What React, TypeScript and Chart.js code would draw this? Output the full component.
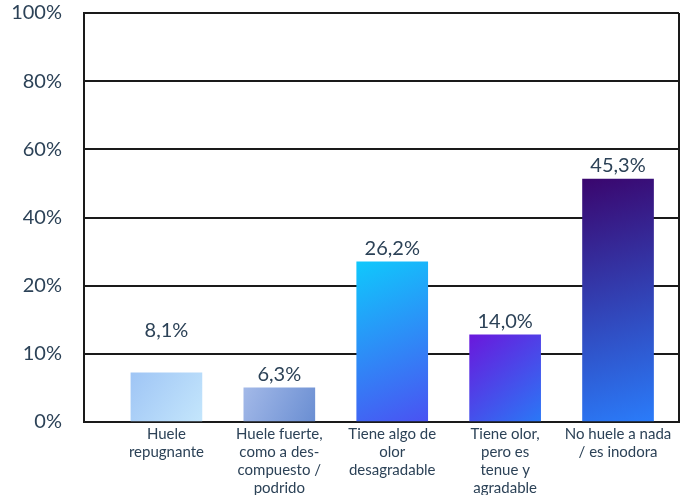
import React, { useEffect, useRef } from "react";
import { Chart, registerables, LinearScale } from "chart.js";

Chart.register(...registerables);

// ---- data ----
const categories: string[][] = [
  ["Huele", "repugnante"],
  ["Huele fuerte,", "como a des-", "compuesto /", "podrido"],
  ["Tiene algo de", "olor", "desagradable"],
  ["Tiene olor,", "pero es", "tenue y", "agradable"],
  ["No huele a nada", "/ es inodora"],
];
// values printed above the bars
const reportedValues = [8.1, 6.3, 26.2, 14.0, 45.3];
// bar heights as drawn against the (uneven) axis of the original picture, in %
const drawnValues = [7.2, 5.0, 27.0, 12.8, 51.3];
// y-axis tick values (evenly spaced in the picture)
const yTickValues = [0, 10, 20, 40, 60, 80, 100];

const gradientStops: [string, string][] = [
  ["#9fc5f5", "#c4e6fc"],
  ["#a3b9e8", "#6a8ed2"],
  ["#10c8fc", "#4a52f2"],
  ["#6a18dc", "#2a78f6"],
  ["#3a066e", "#2a7cfa"],
];

const TEXT = "#2c4257";
const FONT = "Lato, 'Open Sans', sans-serif";

function toUnits(v: number): number {
  for (let i = 1; i < yTickValues.length; i++) {
    const a = yTickValues[i - 1];
    const b = yTickValues[i];
    if (v <= b || i === yTickValues.length - 1) {
      return i - 1 + (v - a) / (b - a);
    }
  }
  return 0;
}
function fromUnits(u: number): number {
  const i = Math.max(0, Math.min(yTickValues.length - 2, Math.floor(u)));
  const a = yTickValues[i];
  const b = yTickValues[i + 1];
  return a + (u - i) * (b - a);
}

class StepScale extends LinearScale {
  static id = "stepScale";
  static defaults = LinearScale.defaults;
  buildTicks() {
    return yTickValues.map((v) => ({ value: v }));
  }
  getPixelForValue(value: number) {
    return this.getPixelForDecimal(toUnits(value) / (yTickValues.length - 1));
  }
  getValueForPixel(pixel: number) {
    return fromUnits(this.getDecimalForPixel(pixel) * (yTickValues.length - 1));
  }
}
Chart.register(StepScale as any);

const fmt = (v: number) => v.toFixed(1).replace(".", ",") + "%";

const valueLabelPlugin = {
  id: "valueLabels",
  afterDatasetsDraw(chart: any) {
    const ctx = chart.ctx;
    const meta = chart.getDatasetMeta(0);
    const yScale = chart.scales.y;
    const gridPx = yTickValues.map((v) => yScale.getPixelForValue(v));
    ctx.save();
    ctx.font = `20px ${FONT}`;
    ctx.fillStyle = TEXT;
    ctx.textAlign = "center";
    ctx.textBaseline = "alphabetic";
    meta.data.forEach((bar: any, i: number) => {
      let bottom = bar.y - 7;
      const h = 15;
      const hit = gridPx.find((g: number) => g > bottom - h - 2 && g < bottom + 2);
      if (hit !== undefined) bottom = hit - 17;
      ctx.fillText(fmt(reportedValues[i]), bar.x, bottom);
    });
    ctx.restore();
  },
};

const framePlugin = {
  id: "frame",
  afterDraw(chart: any) {
    const { ctx, chartArea } = chart;
    ctx.save();
    ctx.strokeStyle = "#1a1a1a";
    ctx.lineWidth = 2;
    ctx.beginPath();
    ctx.moveTo(chartArea.right, chartArea.top);
    ctx.lineTo(chartArea.right, chartArea.bottom);
    ctx.stroke();
    ctx.restore();
  },
};

const BAR_W = 71;

export default function App() {
  const ref = useRef<HTMLCanvasElement | null>(null);
  useEffect(() => {
    if (!ref.current) return;
    const chart = new Chart(ref.current, {
      type: "bar",
      data: {
        datasets: [
          {
            data: drawnValues.map((v, i) => ({ x: i, y: v })),
            barThickness: BAR_W,
            borderWidth: 0,
            backgroundColor: (c: any) => {
              const i = c.dataIndex ?? 0;
              const ch = c.chart;
              const xs = ch.scales?.x;
              const ys = ch.scales?.y;
              if (!ch.chartArea || !xs || !ys) return gradientStops[i][0];
              const cx = xs.getPixelForValue(i);
              const top = ys.getPixelForValue(drawnValues[i]);
              const base = ys.getPixelForValue(0);
              if (![cx, top, base].every((n) => Number.isFinite(n))) return gradientStops[i][0];
              const g = ch.ctx.createLinearGradient(cx - BAR_W / 2, top, cx + BAR_W / 2, base);
              g.addColorStop(0, gradientStops[i][0]);
              g.addColorStop(1, gradientStops[i][1]);
              return g;
            },
          } as any,
        ],
      },
      options: {
        animation: false,
        responsive: true,
        maintainAspectRatio: false,
        layout: { padding: { left: 0, top: 13, right: 2, bottom: 0 } },
        plugins: { legend: { display: false }, tooltip: { enabled: false } },
        scales: {
          x: {
            type: "linear",
            offset: false,
            min: -0.73,
            max: 4.54,
            grid: { display: false, drawTicks: false },
            border: { display: true, color: "#1a1a1a", width: 2 },
            afterBuildTicks: (s: any) => {
              s.ticks = categories.map((_, i) => ({ value: i }));
            },
            afterFit: (s: any) => {
              s.height = 73;
            },
            ticks: {
              autoSkip: false,
              maxRotation: 0,
              padding: 3,
              color: TEXT,
              font: { family: FONT, size: 15, lineHeight: 1.2 },
              callback: (v: any) => categories[Math.round(Number(v))] ?? "",
            },
          },
          y: {
            type: "stepScale" as any,
            min: 0,
            max: 100,
            grid: {
              color: "#1a1a1a",
              lineWidth: 2,
              drawTicks: true,
              tickLength: 22,
              tickColor: "rgba(0,0,0,0)",
            },
            border: { display: true, color: "#1a1a1a", width: 2 },
            afterFit: (s: any) => {
              s.width = 84;
            },
            ticks: {
              padding: 0,
              color: TEXT,
              font: { family: FONT, size: 20 },
              callback: (v: any) => `${v}%`,
            },
          } as any,
        },
      },
      plugins: [valueLabelPlugin, framePlugin],
    } as any);
    return () => chart.destroy();
  }, []);
  return (
    <div style={{ position: "fixed", left: 0, top: 0, width: 681, height: 495, background: "#fff" }}>
      <canvas ref={ref} />
    </div>
  );
}
